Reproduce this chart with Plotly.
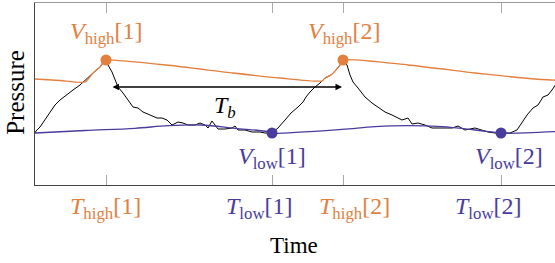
import plotly.graph_objects as go

# ---- data (time / pressure in arbitrary units) ----
black_t = [0, 1, 5, 10, 15, 20, 25, 31, 38, 45, 51, 58, 65, 69, 71,
           73, 77, 80, 83, 88, 93, 98, 103, 108, 115, 122, 127, 132, 137, 143, 148, 153, 160, 165, 170, 173, 177,
           183, 190, 197, 200, 203, 210, 217, 225, 230, 237,
           243, 250, 256, 263, 268, 271, 275, 280, 285, 290, 296, 301, 305, 308,
           312, 315, 318, 323, 330, 337, 343, 350, 357, 367, 373, 377, 383, 390, 397, 407, 417, 423, 430, 440, 447,
           453, 460, 466,
           475, 482, 487, 492, 498, 503, 508, 513, 517, 520, 525]
black_p = [52, 54, 58, 65, 73, 80, 85, 90, 95, 100, 106, 112, 118, 124, 125,
           120, 113, 105, 98, 92, 85, 78, 77, 73, 70, 67, 67, 65, 60, 63, 62, 60, 60, 62, 60, 57, 64,
           56, 56, 57, 59, 55, 55, 53, 53, 52, 52,
           57, 65, 72, 78, 83, 88, 93, 98, 102, 107, 110, 115, 120, 125,
           120, 110, 103, 97, 88, 82, 78, 73, 70, 65, 67, 61, 62, 60, 57, 57, 57, 59, 55, 57, 55,
           53, 52, 52,
           52, 55, 62, 70, 77, 80, 88, 90, 95, 100, 107]

high_t = [0, 25, 50, 58, 65, 69, 71, 131, 198, 245, 287, 290, 296, 301, 305, 308, 373, 440, 478, 500, 520, 525]
high_p = [106, 104.5, 103, 112, 118, 124, 125, 120, 112, 107, 104, 107, 110, 115, 120, 125, 120, 112, 108, 106, 105, 106]

low_t = [0, 50, 100, 133, 166, 200, 233, 237, 240, 307, 340, 373, 407, 440, 466, 475, 520]
low_p = [52, 54.5, 56.7, 59.3, 60, 56.7, 53.3, 52, 51.7, 55.7, 58.3, 59.3, 58.3, 55, 52, 51.7, 53.3]

peak_t = [71, 308]
peak_p = [125, 125]
trough_t = [237, 466]
trough_p = [52, 52]

tick_t = [71, 237, 308, 466]
tick_labels = ["<i>T</i><sub>high</sub>[1]", "<i>T</i><sub>low</sub>[1]",
               "<i>T</i><sub>high</sub>[2]", "<i>T</i><sub>low</sub>[2]"]
tick_label_t = [70.5, 224, 319.5, 453.5]
tick_colors = ["orange", "purple", "orange", "purple"]

ORANGE = "#E3803F"
PURPLE = "#4A3C9C"
FONT = "Liberation Serif, Times New Roman, DejaVu Serif, serif"
FS = 24

fig = go.Figure()
fig.add_trace(go.Scatter(x=black_t, y=black_p, mode="lines",
                         line=dict(color="black", width=1), hoverinfo="skip"))
fig.add_trace(go.Scatter(x=low_t, y=low_p, mode="lines",
                         line=dict(color=PURPLE, width=1.3, shape="spline"), hoverinfo="skip"))
fig.add_trace(go.Scatter(x=high_t, y=high_p, mode="lines",
                         line=dict(color=ORANGE, width=1.3, shape="spline", smoothing=0.6), hoverinfo="skip"))
fig.add_trace(go.Scatter(x=peak_t, y=peak_p, mode="markers",
                         marker=dict(color=ORANGE, size=11), hoverinfo="skip"))
fig.add_trace(go.Scatter(x=trough_t, y=trough_p, mode="markers",
                         marker=dict(color=PURPLE, size=11), hoverinfo="skip"))
# invisible trace to carry the top axis
fig.add_trace(go.Scatter(x=[0], y=[0], xaxis="x2", mode="markers",
                         marker=dict(opacity=0), hoverinfo="skip"))

cmap = {"orange": ORANGE, "purple": PURPLE}
ann = []
for t, lab, c in zip(tick_label_t, tick_labels, tick_colors):
    ann.append(dict(x=t, y=-0.126, xref="x", yref="paper", text=lab, showarrow=False,
                    font=dict(family=FONT, size=FS, color=cmap[c]), xanchor="center", yanchor="middle"))
ann += [
    dict(x=71, y=152, xref="x", yref="y", text="<i>V</i><sub>high</sub>[1]", showarrow=False,
         font=dict(family=FONT, size=FS, color=ORANGE)),
    dict(x=309, y=152, xref="x", yref="y", text="<i>V</i><sub>high</sub>[2]", showarrow=False,
         font=dict(family=FONT, size=FS, color=ORANGE)),
    dict(x=236.5, y=27, xref="x", yref="y", text="<i>V</i><sub>low</sub>[1]", showarrow=False,
         font=dict(family=FONT, size=FS, color=PURPLE)),
    dict(x=474, y=27, xref="x", yref="y", text="<i>V</i><sub>low</sub>[2]", showarrow=False,
         font=dict(family=FONT, size=FS, color=PURPLE)),
    dict(x=190, y=78, xref="x", yref="y", text="<i>T</i><sub><i>b</i></sub>", showarrow=False,
         font=dict(family=FONT, size=FS, color="black")),
    dict(x=307, y=98, ax=76, ay=98, xref="x", yref="y", axref="x", ayref="y", text="",
         showarrow=True, arrowhead=2, startarrowhead=2, arrowside="end+start",
         arrowsize=1, arrowwidth=1.3, arrowcolor="black", standoff=0, startstandoff=0),
    dict(x=259, y=-0.41, xref="x", yref="paper", text="Time", showarrow=False,
         font=dict(family=FONT, size=23, color="black")),
    dict(x=-0.067, y=0.51, xref="paper", yref="paper", text="Pressure", showarrow=False, textangle=-90,
         font=dict(family=FONT, size=25, color="black")),
]

fig.update_layout(
    width=555, height=263,
    margin=dict(l=35, r=0, t=3, b=78, autoexpand=False),
    paper_bgcolor="white", plot_bgcolor="white",
    showlegend=False,
    xaxis=dict(range=[0, 520], showgrid=False, zeroline=False, showline=True,
               linecolor="#444", linewidth=1.2, ticks="inside", ticklen=10, tickcolor="#aaa",
               tickwidth=1, tickvals=tick_t, showticklabels=False),
    xaxis2=dict(range=[0, 520], overlaying="x", side="top", showgrid=False, zeroline=False,
                showline=True, linecolor="#999", linewidth=1, ticks="inside", ticklen=10,
                tickcolor="#aaa", tickwidth=1, tickvals=tick_t, showticklabels=False),
    yaxis=dict(range=[0, 182], showgrid=False, zeroline=False, showline=True,
               linecolor="#444", linewidth=1.2, ticks="", showticklabels=False),
    annotations=ann,
)

fig.write_html("out.html", config={"displayModeBar": False},
               post_script="document.body.style.margin='0';document.body.style.padding='0';")
